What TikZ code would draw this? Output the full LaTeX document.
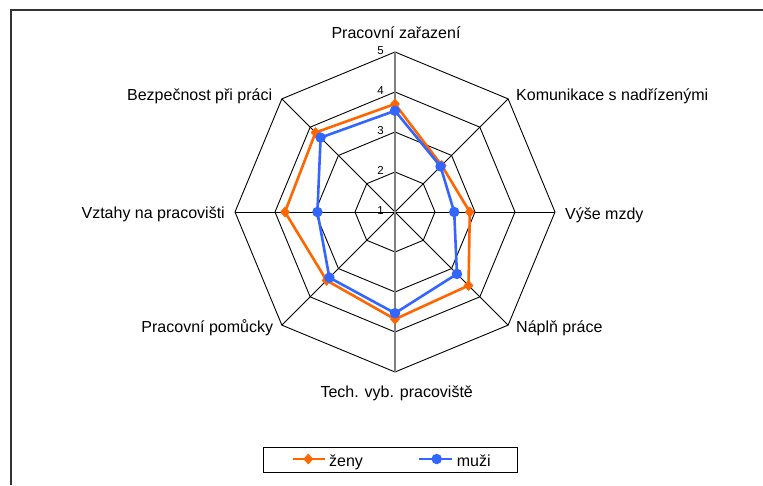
\documentclass[tikz,border=0pt]{standalone}
\usepackage{fontspec}
\setmainfont{Liberation Sans}
\usetikzlibrary{positioning, shapes.geometric}
\definecolor{zenycol}{HTML}{FF6600}
\definecolor{muzicol}{HTML}{3366FF}

\begin{document}
\begin{tikzpicture}[x=1pt, y=1pt,
        gridline/.style={black, line width=0.9pt},
        valaxis/.style={black!50, line width=1.6pt},
        zenyline/.style={zenycol, line width=2.6pt, line join=round},
        muziline/.style={muzicol, line width=2.6pt, line join=round},
        zenymark/.style={diamond, fill=zenycol, inner sep=0pt, minimum width=10pt, minimum height=11pt},
        muzimark/.style={circle, fill=muzicol, inner sep=0pt, minimum size=10.5pt},
        axlabel/.style={font=\fontsize{16}{19}\selectfont, inner sep=0pt},
        numlabel/.style={font=\fontsize{11.5}{13}\selectfont, inner sep=0pt, anchor=east}]
            \useasboundingbox (0,0) rectangle (763,485);

            % frame
            \draw[line width=2pt, black!80] (11,0) -- (11,474.5) -- (763,474.5);

            \begin{scope}[shift={(395,273)}]
                \coordinate (ctr) at (0,0);
                \foreach \i in {0,...,7}
                    \coordinate (ax\i) at ({90-45*\i}:160);

                % Draw rings and spokes
                \foreach \r in {40,80,120,160}
                    \draw[gridline] (90:\r) -- (45:\r) -- (0:\r) -- (-45:\r) -- (-90:\r) -- (-135:\r) -- (180:\r) -- (135:\r) -- cycle;
                \foreach \i in {1,2,3,5,6,7}
                    \draw[gridline] (ctr) -- (ax\i);
                \draw[valaxis] (ax4) -- (ax0);

                \foreach \v in {1,...,5}
                    \node[numlabel] (n\v) at (-11,{40*(\v-1)+1.5}) {\v};

                % series
                \foreach \v [count=\i from 0] in {3.70,2.65,2.87,3.60,3.68,3.42,3.75,3.81}
                    \coordinate (z\i) at ({90-45*\i}:{40*(\v-1)});
                \foreach \v [count=\i from 0] in {3.53,2.61,2.48,3.19,3.53,3.32,2.94,3.63}
                    \coordinate (m\i) at ({90-45*\i}:{40*(\v-1)});

                \draw[zenyline] (z0) -- (z1) -- (z2) -- (z3) -- (z4) -- (z5) -- (z6) -- (z7) -- cycle;
                \foreach \i in {0,...,7}
                    \node[zenymark] (zm\i) at (z\i) {};
                \draw[muziline] (m0) -- (m1) -- (m2) -- (m3) -- (m4) -- (m5) -- (m6) -- (m7) -- cycle;
                \foreach \i in {0,...,7}
                    \node[muzimark] (mm\i) at (m\i) {};
            \end{scope}

            % axis labels
            \node[axlabel, anchor=base] (lab0) at (396,446.7) {Pracovní zařazení};
            \node[axlabel, anchor=base west] (lab1) at (516,384.3) {Komunikace s nadřízenými};
            \node[axlabel, anchor=base west] (lab2) at (565,265.7) {Výše mzdy};
            \node[axlabel, anchor=base west] (lab3) at (516,152.3) {Náplň práce};
            \node[axlabel, anchor=base] (lab4) at (396.7,87.5) {Tech. vyb. pracoviště};
            \node[axlabel, anchor=base east] (lab5) at (273.3,152.3) {Pracovní pomůcky};
            \node[axlabel, anchor=base east] (lab6) at (225,266.7) {Vztahy na pracovišti};
            \node[axlabel, anchor=base east] (lab7) at (272.3,384.3) {Bezpečnost při práci};

            % legend
            \node[draw, line width=0.8pt, minimum width=254pt, minimum height=25pt, inner sep=0pt] (legend) at (390.3,25.2) {};
            \coordinate (lz1) at (292.7,26);
            \coordinate (lz2) at (325,26);
            \draw[zenycol, line width=2.2pt] (lz1) -- (lz2);
            \node[zenymark] (lzm) at (308.3,26) {};
            \node[axlabel, anchor=base west] (lzt) at (329,19) {ženy};
            \coordinate (lm1) at (419,26);
            \coordinate (lm2) at (451.7,26);
            \draw[muzicol, line width=2.2pt] (lm1) -- (lm2);
            \node[muzimark] (lmm) at (436.7,26) {};
            \node[axlabel, anchor=base west] (lmt) at (456.7,19) {muži};
        \end{tikzpicture}
\end{document}
